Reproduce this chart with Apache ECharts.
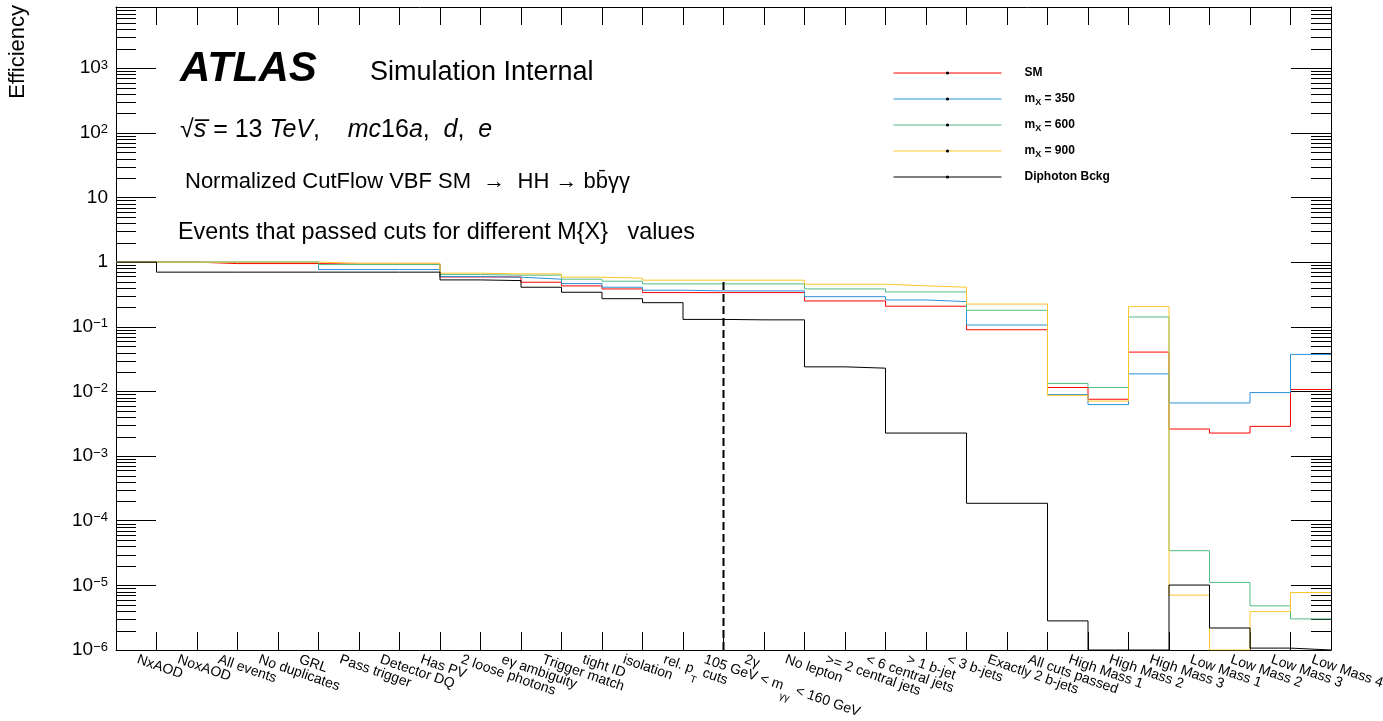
<!DOCTYPE html>
<html>
<head>
<meta charset="utf-8">
<title>Normalized CutFlow VBF</title>
<script src="https://cdn.jsdelivr.net/npm/echarts@6/dist/echarts.min.js"></script>
<style>
  html, body { margin: 0; padding: 0; background: #fff; }
  #chart { width: 1383px; height: 721px; }
</style>
</head>
<body>
<div id="chart"></div>
<script>
// Cut-flow steps (one histogram bin each)
const cutLabels = [
  'NxAOD', 'NoxAOD', 'All events', 'No duplicates', 'GRL', 'Pass trigger',
  'Detector DQ', 'Has PV', '2 loose photons', 'eγ ambiguity', 'Trigger match',
  'tight ID', 'isolation', 'rel. p_T cuts', '105 GeV < m_γγ < 160 GeV', '2γ',
  'No lepton', '>= 2 central jets', '< 6 central jets', '> 1 b-jet', '< 3 b-jets',
  'Exactly 2 b-jets', 'All cuts passed', 'High Mass 1', 'High Mass 2', 'High Mass 3',
  'Low Mass 1', 'Low Mass 2', 'Low Mass 3', 'Low Mass 4'
];

// Normalized efficiency per cut (0 = no events left)
const effSM = [
  1.0, 1.0, 0.95, 0.95, 0.95, 0.93, 0.93, 0.93, 0.59, 0.59,
  0.489, 0.429, 0.385, 0.338, 0.338, 0.338, 0.338, 0.251, 0.251, 0.208,
  0.208, 0.090, 0.090, 0.0115, 0.00757, 0.0406, 0.00262, 0.00227, 0.00288, 0.0107
];
const effM350 = [
  1.0, 1.0, 1.0, 1.0, 1.0, 0.768, 0.768, 0.768, 0.598, 0.585,
  0.545, 0.466, 0.409, 0.368, 0.359, 0.359, 0.359, 0.292, 0.292, 0.260,
  0.245, 0.1065, 0.1065, 0.00895, 0.00626, 0.0187, 0.00663, 0.00663, 0.0096, 0.0374
];
const effM600 = [
  1.0, 1.0, 1.0, 1.0, 1.0, 0.918, 0.918, 0.918, 0.642, 0.629,
  0.629, 0.545, 0.507, 0.461, 0.461, 0.461, 0.461, 0.385, 0.385, 0.346,
  0.346, 0.180, 0.180, 0.0133, 0.0115, 0.142, 3.44e-5, 1.11e-5, 4.82e-6, 3.03e-6
];
const effM900 = [
  1.0, 1.0, 1.0, 1.0, 1.0, 0.965, 0.965, 0.965, 0.675, 0.658,
  0.658, 0.585, 0.565, 0.526, 0.526, 0.526, 0.526, 0.456, 0.456, 0.429,
  0.409, 0.225, 0.225, 0.0087, 0.0071, 0.205, 7.06e-6, 0, 3.93e-6, 7.75e-6
];
const effBckg = [
  1.0, 0.70, 0.70, 0.70, 0.70, 0.70, 0.70, 0.70, 0.531, 0.518,
  0.409, 0.342, 0.272, 0.236, 0.130, 0.128, 0.128, 0.024, 0.0229, 0.00227,
  0.00227, 1.86e-4, 1.86e-4, 2.82e-6, 0, 0, 1.01e-5, 2.19e-6, 1.07e-6, 0
];

const seriesNames = ['SM', 'm_X = 350', 'm_X = 600', 'm_X = 900', 'Diphoton Bckg'];
const seriesColors = ['#ff0000', '#2b91d9', '#4fbd86', '#fdc52c', '#000000'];
const seriesValues = [effSM, effM350, effM600, effM900, effBckg];

// Vertical marker after the m_γγ window cut: bin edge and height
const windowCutEdge = 15;
const windowCutTop = 0.52;

// Log axis range
const yMinValue = 1e-6;
const yMaxValue = 8850;
const yMinLog = Math.log10(yMinValue);
const yMaxLog = Math.log10(yMaxValue);

const FONT = '"Liberation Sans", Arial, Helvetica, sans-serif';

function toLog(v) {
  return v > 0 ? Math.max(Math.log10(v), yMinLog) : yMinLog;
}

// Histogram outline: one point per bin low edge plus the closing edge
function histPoints(vals) {
  const pts = vals.map((v, i) => [i, toLog(v)]);
  pts.push([vals.length, toLog(vals[vals.length - 1])]);
  return pts;
}

// Minor log ticks (2..9 in each decade)
const minorTicks = [];
for (let d = Math.floor(yMinLog); d <= Math.ceil(yMaxLog); d++) {
  for (let k = 2; k <= 9; k++) {
    const lv = d + Math.log10(k);
    if (lv > yMinLog && lv < yMaxLog) minorTicks.push([0, lv]);
  }
}

function richCut(label) {
  const m = label.match(/^(.*?)_(\S+)(.*)$/);
  if (!m) return '{n|' + label + '}';
  return '{n|' + m[1] + '}{s|' + m[2] + '}{n|' + m[3] + '}';
}

// every legend row gets the same token layout so rows have equal height
function richLegend(name) {
  const m = name.match(/^(.*?)_(\S+)(.*)$/);
  if (!m) return '{g|}{b|' + name + '}{s|\u200b}';
  return '{g|}{b|' + m[1] + '}{s|' + m[2] + '}{b|' + m[3] + '}';
}

function powerLabel(v) {
  const e = Math.round(v);
  if (Math.abs(v - e) > 1e-6) return '';
  if (e === 0) return '{b|1}';
  if (e === 1) return '{b|10}';
  return '{b|10}{e|' + (e < 0 ? '\u2212' : '') + Math.abs(e) + '}';
}

const chart = echarts.init(document.getElementById('chart'), null, { renderer: 'canvas' });

const lineSeries = seriesNames.map((name, i) => ({
  name: name,
  type: 'line',
  xAxisIndex: 2,
  yAxisIndex: 0,
  step: 'end',
  symbol: 'circle',
  symbolSize: 3,
  showSymbol: false,
  clip: true,
  silent: true,
  itemStyle: { color: '#000' },
  lineStyle: { color: seriesColors[i], width: 1 },
  data: histPoints(seriesValues[i]),
  z: 3 + i
}));

const binTick = { show: true, inside: true, length: 18, interval: 0, alignWithLabel: false, lineStyle: { color: '#000', width: 1 } };

const option = {
  animation: false,
  textStyle: { fontFamily: FONT },
  grid: { left: 116, right: 52, top: 7, bottom: 71, containLabel: false, outerBoundsMode: 'none' },
  xAxis: [
    {
      type: 'category',
      data: cutLabels,
      position: 'bottom',
      boundaryGap: true,
      axisLine: { show: true, onZero: false, lineStyle: { color: '#000', width: 1 } },
      axisTick: binTick,
      axisLabel: {
        interval: 0,
        rotate: -19,
        margin: 13,
        color: '#000',
        hideOverlap: false,
        formatter: richCut,
        rich: {
          n: { fontSize: 14, lineHeight: 22, verticalAlign: 'top', color: '#000', fontFamily: FONT },
          s: { fontSize: 10, lineHeight: 10, padding: [12, 0, 0, 0], verticalAlign: 'bottom', color: '#000', fontFamily: FONT }
        }
      },
      splitLine: { show: false }
    },
    {
      type: 'category',
      data: cutLabels,
      position: 'top',
      boundaryGap: true,
      axisLine: { show: true, onZero: false, lineStyle: { color: '#000', width: 1 } },
      axisTick: binTick,
      axisLabel: { show: false },
      splitLine: { show: false }
    },
    {
      type: 'value',
      min: 0,
      max: cutLabels.length,
      show: false,
      axisLine: { onZero: false }
    }
  ],
  yAxis: [
    {
      type: 'value',
      position: 'left',
      min: yMinLog,
      max: yMaxLog,
      interval: 1,
      axisLine: { show: true, onZero: false, lineStyle: { color: '#000', width: 1 } },
      axisTick: { show: true, inside: true, length: 40, lineStyle: { color: '#000' } },
      axisLabel: {
        margin: 8,
        color: '#000',
        showMaxLabel: false,
        formatter: powerLabel,
        rich: {
          b: { fontSize: 19, lineHeight: 19, verticalAlign: 'bottom', color: '#000', fontFamily: FONT },
          e: { fontSize: 13, lineHeight: 13, verticalAlign: 'top', color: '#000', fontFamily: FONT }
        }
      },
      splitLine: { show: false }
    },
    {
      type: 'value',
      position: 'right',
      min: yMinLog,
      max: yMaxLog,
      interval: 1,
      axisLine: { show: true, onZero: false, lineStyle: { color: '#000', width: 1 } },
      axisTick: { show: true, inside: true, length: 40, lineStyle: { color: '#000' } },
      axisLabel: { show: false },
      splitLine: { show: false }
    }
  ],
  legend: {
    orient: 'vertical',
    left: 893,
    top: 65,
    padding: 0,
    itemWidth: 108,
    itemHeight: 4,
    itemGap: 10,
    selectedMode: false,
    data: seriesNames.map((name, i) => ({
      name: name,
      itemStyle: { color: '#000', borderWidth: 0 },
      lineStyle: { color: seriesColors[i], width: 1 }
    })),
    formatter: richLegend,
    textStyle: {
      color: '#000',
      rich: {
        g: { width: 18 },
        b: { fontSize: 12, fontWeight: 'bold', lineHeight: 16, verticalAlign: 'middle', color: '#000', fontFamily: FONT },
        s: { fontSize: 9, fontWeight: 'bold', lineHeight: 9, padding: [7, 0, 0, 0], verticalAlign: 'bottom', color: '#000', fontFamily: FONT }
      }
    }
  },
  graphic: [
    {
      type: 'text', x: 18, y: 5, rotation: Math.PI / 2,
      style: { text: 'Efficiency', align: 'right', verticalAlign: 'middle', font: '22px ' + FONT, fill: '#000' }
    },
    {
      type: 'text', x: 180, y: 69,
      style: { text: 'ATLAS', verticalAlign: 'middle', font: 'italic bold 42px ' + FONT, fill: '#000' }
    },
    {
      type: 'text', x: 370, y: 73,
      style: { text: 'Simulation Internal', verticalAlign: 'middle', font: '27px ' + FONT, fill: '#000' }
    },
    {
      type: 'text', x: 180, y: 130,
      style: {
        text: '{n|\u221A}{i|s\u0305}{n| = 13 }{i|TeV}{n|,    }{i|mc}{n|16}{i|a}{n|,  }{i|d}{n|,  }{i|e}',
        verticalAlign: 'middle',
        rich: {
          n: { font: '25px ' + FONT, fill: '#000' },
          i: { font: 'italic 25px ' + FONT, fill: '#000' }
        }
      }
    },
    {
      type: 'text', x: 185, y: 182,
      style: { text: 'Normalized CutFlow VBF SM  \u2192  HH \u2192 bb\u0304\u03B3\u03B3', verticalAlign: 'middle', font: '22px ' + FONT, fill: '#000' }
    },
    {
      type: 'text', x: 178, y: 233,
      style: { text: 'Events that passed cuts for different M{X}   values', verticalAlign: 'middle', font: '23.4px ' + FONT, fill: '#000' }
    }
  ],
  series: lineSeries.concat([
    {
      name: 'window cut',
      type: 'line',
      xAxisIndex: 2,
      yAxisIndex: 0,
      symbol: 'none',
      silent: true,
      lineStyle: { color: '#000', width: 2, type: [8, 4] },
      data: [[windowCutEdge, yMinLog], [windowCutEdge, Math.log10(windowCutTop)]],
      z: 10
    },
    {
      name: 'minor ticks',
      type: 'custom',
      xAxisIndex: 2,
      yAxisIndex: 0,
      silent: true,
      clip: false,
      data: minorTicks,
      renderItem: function (params, api) {
        const lv = api.value(1);
        const l = api.coord([0, lv]);
        const r = api.coord([cutLabels.length, lv]);
        const y = Math.round(l[1]) + 0.5;
        return {
          type: 'group',
          children: [
            { type: 'line', shape: { x1: l[0], y1: y, x2: l[0] + 20, y2: y }, style: { stroke: '#000', lineWidth: 1 } },
            { type: 'line', shape: { x1: r[0] - 20, y1: y, x2: r[0], y2: y }, style: { stroke: '#000', lineWidth: 1 } }
          ]
        };
      },
      z: 2
    }
  ])
};

chart.setOption(option);
</script>
</body>
</html>
